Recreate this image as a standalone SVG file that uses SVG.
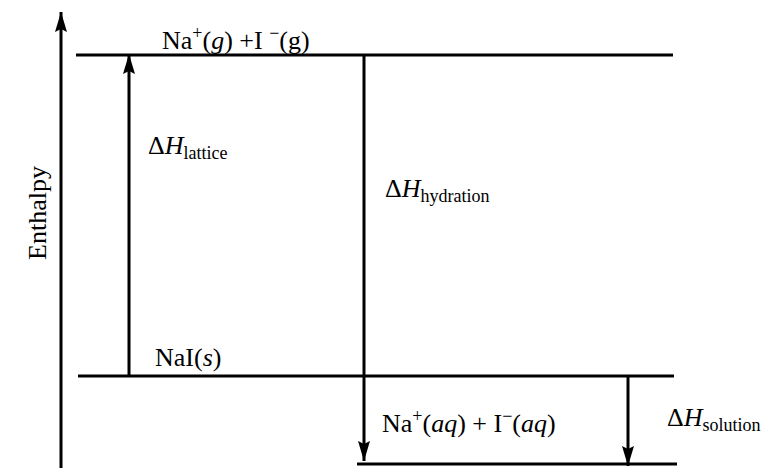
<svg xmlns="http://www.w3.org/2000/svg" width="768" height="472" viewBox="0 0 768 472" font-family="'Liberation Serif', 'Times New Roman', 'DejaVu Serif', serif">
<style>
text{font-size:26px;fill:#000}
.ln{stroke:#000;stroke-width:3;fill:none}
.it{font-style:italic}
.sm{font-size:18px}
</style>
<defs>
<marker id="ah" viewBox="0 0 20 12" refX="20" refY="6" markerWidth="20" markerHeight="12" markerUnits="userSpaceOnUse" orient="auto">
<path d="M0,0 L20,6 L0,12 L3,6 Z" fill="#000"/>
</marker>
</defs>
<rect width="768" height="472" fill="#fff"/>
<g id="levels">
<line class="ln" x1="76" y1="55" x2="673" y2="55"/>
<line class="ln" x1="78" y1="376" x2="674" y2="376"/>
<line class="ln" x1="357" y1="464" x2="677" y2="464"/>
</g>
<g id="connectors">
<line class="ln" x1="61" y1="468" x2="61" y2="12" marker-end="url(#ah)"/>
<line class="ln" x1="129" y1="376" x2="129" y2="54" marker-end="url(#ah)"/>
<line class="ln" x1="364" y1="55" x2="364" y2="461" marker-end="url(#ah)"/>
<line class="ln" x1="628" y1="376" x2="628" y2="466" marker-end="url(#ah)"/>
</g>
<g id="axis-label"><text transform="translate(46,213) rotate(-90)" text-anchor="middle">Enthalpy</text></g>
<g id="gas"><text x="162" y="49">Na<tspan class="sm" dy="-10">+</tspan><tspan dy="10">(</tspan><tspan class="it">g</tspan>) +I <tspan class="sm" dy="-10">−</tspan><tspan dy="10">(g)</tspan></text></g>
<g id="lattice"><text x="148" y="154">Δ<tspan class="it">H</tspan><tspan class="sm" dy="5">lattice</tspan></text></g>
<g id="hydration"><text x="385" y="197">Δ<tspan class="it">H</tspan><tspan class="sm" dy="5">hydration</tspan></text></g>
<g id="solid"><text x="155" y="366">NaI(<tspan class="it">s</tspan>)</text></g>
<g id="aqueous"><text x="382" y="432">Na<tspan class="sm" dy="-10">+</tspan><tspan dy="10">(</tspan><tspan class="it">aq</tspan>) + I<tspan class="sm" dy="-10">−</tspan><tspan dy="10">(</tspan><tspan class="it">aq</tspan>)</text></g>
<g id="solution"><text x="667" y="426">Δ<tspan class="it">H</tspan><tspan class="sm" dy="5">solution</tspan></text></g>
</svg>
